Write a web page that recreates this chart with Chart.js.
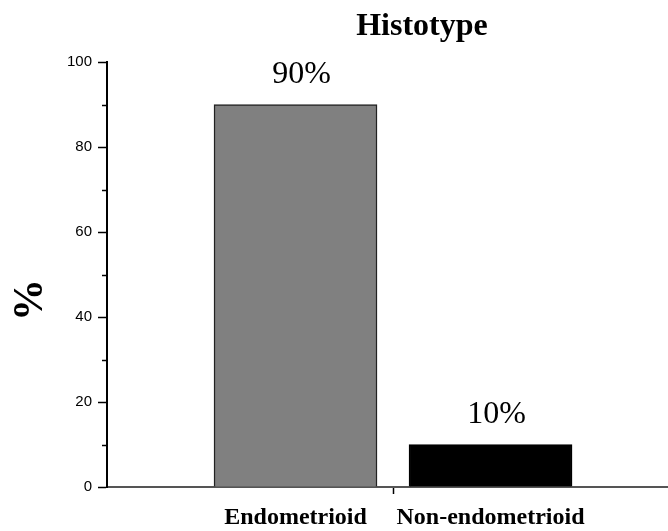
<!DOCTYPE html>
<html>
<head>
<meta charset="utf-8">
<script src="https://cdn.jsdelivr.net/npm/chart.js@4/dist/chart.umd.min.js"></script>
<style>
  html, body { margin: 0; padding: 0; background: #fff; }
  #wrap { width: 668px; height: 531px; }
</style>
</head>
<body>
<div id="wrap"><canvas id="c" width="668" height="531"></canvas></div>
<script>
// Histotype distribution (percent of cases)
const categories = ['Endometrioid', 'Non-endometrioid'];
const percentages = [90, 10];
const barColors = ['#808080', '#000000'];
const barBorders = ['#222222', '#000000'];
const categoryPositions = [1, 2];
const dividerPosition = 1.5;
const yMajorTicks = [0, 20, 40, 60, 80, 100];
const yMinorTicks = [10, 30, 50, 70, 90];
const chartTitle = 'Histotype';
const yAxisTitle = '%';

const points = categoryPositions.map((x, i) => ({ x: x, y: percentages[i] }));

const decorations = {
  id: 'decorations',
  afterDraw(chart) {
    const ctx = chart.ctx;
    const area = chart.chartArea;
    const yScale = chart.scales.y;
    ctx.save();

    // minor ticks on the value axis
    ctx.strokeStyle = '#000';
    ctx.lineWidth = 1.5;
    yMinorTicks.forEach(v => {
      const y = Math.round(yScale.getPixelForValue(v)) + 0.5;
      ctx.beginPath();
      ctx.moveTo(area.left - 5, y);
      ctx.lineTo(area.left, y);
      ctx.stroke();
    });

    // value labels above bars
    ctx.fillStyle = '#000';
    ctx.font = '32px "Liberation Serif", "Times New Roman", serif';
    ctx.textAlign = 'center';
    ctx.textBaseline = 'alphabetic';
    const meta = chart.getDatasetMeta(0);
    meta.data.forEach((bar, i) => {
      ctx.fillText(percentages[i] + '%', bar.x + 6, bar.y - 22);
    });

    // chart title
    ctx.font = 'bold 32px "Liberation Serif", "Times New Roman", serif';
    ctx.fillText(chartTitle, 422, 35);

    // value axis title
    ctx.translate(31, 300);
    ctx.rotate(-Math.PI / 2);
    ctx.font = 'bold 42px "Liberation Serif", "Times New Roman", serif';
    ctx.textBaseline = 'middle';
    ctx.fillText(yAxisTitle, 0, 0);

    ctx.restore();
  }
};

new Chart(document.getElementById('c'), {
  type: 'bar',
  data: {
    datasets: [{
      data: points,
      backgroundColor: barColors,
      borderColor: barBorders,
      borderWidth: 1.5,
      barThickness: 163
    }]
  },
  options: {
    responsive: false,
    animation: false,
    layout: { padding: { top: 62, right: 0, bottom: 0, left: 0 } },
    plugins: {
      legend: { display: false },
      tooltip: { enabled: false },
      title: { display: false }
    },
    scales: {
      x: {
        type: 'linear',
        min: 0.0333,
        max: 2.91,
        offset: false,
        afterBuildTicks(scale) {
          scale.ticks = [categoryPositions[0], dividerPosition, categoryPositions[1]].map(v => ({ value: v }));
        },
        afterFit(scale) { scale.height = 44; },
        ticks: {
          autoSkip: false,
          maxRotation: 0,
          padding: 9,
          color: '#000',
          font: { family: '"Liberation Serif", "Times New Roman", serif', size: 24, weight: 'bold' },
          callback(value) {
            const idx = categoryPositions.indexOf(value);
            return idx >= 0 ? categories[idx] : '';
          }
        },
        grid: {
          drawOnChartArea: false,
          offset: false,
          tickLength: 7,
          tickWidth: 1.5,
          tickColor: ctx => (ctx.tick && ctx.tick.value === dividerPosition) ? '#000' : 'rgba(0,0,0,0)'
        },
        border: { color: '#555', width: 2 }
      },
      y: {
        min: 0,
        max: 100,
        afterBuildTicks(scale) {
          scale.ticks = yMajorTicks.map(v => ({ value: v }));
        },
        afterFit(scale) { scale.width = 107; },
        ticks: {
          padding: 6,
          color: '#000',
          font: { family: '"Liberation Sans", Arial, sans-serif', size: 15 }
        },
        grid: {
          drawOnChartArea: false,
          tickLength: 9,
          tickWidth: 1.5,
          tickColor: '#000'
        },
        border: { color: '#000', width: 2 }
      }
    }
  },
  plugins: [decorations]
});
</script>
</body>
</html>
